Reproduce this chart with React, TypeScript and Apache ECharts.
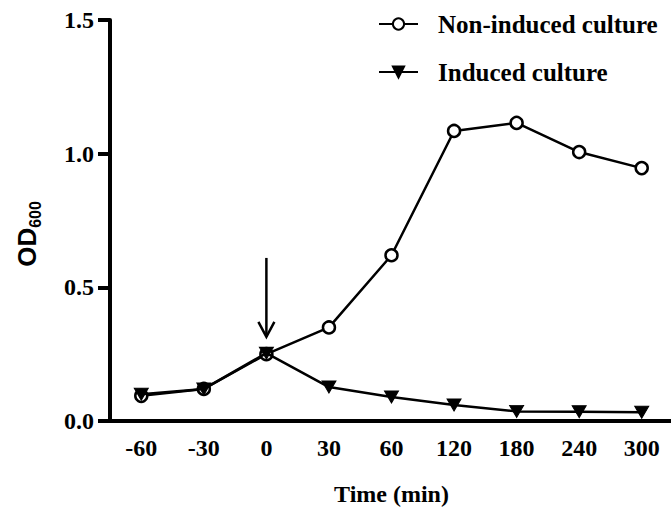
import React, { useEffect, useRef } from "react";
import * as echarts from "echarts";

const categories = ["-60", "-30", "0", "30", "60", "120", "180", "240", "300"];
const nonInduced = [0.094, 0.12, 0.25, 0.35, 0.62, 1.085, 1.115, 1.006, 0.946];
const induced = [0.1, 0.12, 0.254, 0.127, 0.09, 0.06, 0.036, 0.035, 0.033];
const yTicks = { min: 0, max: 1.5, interval: 0.5 };
const arrowCategory = "0";
const arrowFrom = 0.61;
const arrowTo = 0.315;

const SERIF = "'Liberation Serif', 'Times New Roman', serif";
const SANS = "'Liberation Sans', Arial, sans-serif";

export default function App() {
  const ref = useRef<HTMLDivElement>(null);
  useEffect(() => {
    if (!ref.current) return;
    const chart = echarts.init(ref.current, null, { renderer: "svg" });
    chart.setOption({
      animation: false,
      backgroundColor: "#fff",
      grid: { left: 110, top: 20, width: 563, bottom: 89, containLabel: false, outerBoundsMode: "none" },
      legend: {
        orient: "vertical",
        left: 373,
        top: 6,
        itemWidth: 39,
        itemHeight: 14,
        itemGap: 22,
        textStyle: {
          fontFamily: SERIF,
          fontWeight: "bold",
          fontSize: 25,
          lineHeight: 26,
          color: "#000",
          padding: [0, 0, 0, 15],
        },
        data: ["Non-induced culture", "Induced culture"],
      },
      xAxis: {
        type: "category",
        data: categories,
        boundaryGap: true,
        name: "Time (min)",
        nameLocation: "middle",
        nameGap: 61,
        nameTextStyle: { fontFamily: SERIF, fontWeight: "bold", fontSize: 24, color: "#000" },
        axisLine: { lineStyle: { color: "#000", width: 4 } },
        axisTick: { alignWithLabel: true, length: 11, lineStyle: { color: "#000", width: 4 } },
        axisLabel: { fontFamily: SERIF, fontWeight: "bold", fontSize: 24, color: "#000", margin: 15 },
        splitLine: { show: false },
      },
      yAxis: {
        type: "value",
        min: yTicks.min,
        max: yTicks.max,
        interval: yTicks.interval,
        axisLine: { show: true, lineStyle: { color: "#000", width: 4 } },
        axisTick: { show: true, length: 12, lineStyle: { color: "#000", width: 4 } },
        axisLabel: {
          fontFamily: SERIF,
          fontWeight: "bold",
          fontSize: 24,
          color: "#000",
          margin: 16,
          formatter: (v: number) => v.toFixed(1),
        },
        splitLine: { show: false },
      },
      series: [
        {
          name: "Non-induced culture",
          type: "line",
          data: nonInduced,
          symbol: "circle",
          symbolSize: 12,
          lineStyle: { color: "#000", width: 2.5 },
          itemStyle: { color: "#fff", borderColor: "#000", borderWidth: 2.5 },
          z: 2,
        },
        {
          name: "Induced culture",
          type: "line",
          data: induced,
          symbol: "triangle",
          symbolRotate: 180,
          symbolSize: [14, 12],
          lineStyle: { color: "#000", width: 2.5 },
          itemStyle: { color: "#000", borderColor: "#000", borderWidth: 1 },
          z: 3,
        },
      ],
      graphic: [
        {
          id: "yname",
          type: "text",
          x: 27,
          y: 234,
          rotation: Math.PI / 2,
          style: {
            text: "{a|OD}{b|600}",
            align: "center",
            verticalAlign: "middle",
            rich: {
              a: { fontFamily: SANS, fontWeight: "bold", fontSize: 26, fill: "#000", lineHeight: 32, verticalAlign: "middle" },
              b: { fontFamily: SANS, fontWeight: "bold", fontSize: 16, fill: "#000", lineHeight: 32, verticalAlign: "bottom" },
            },
          },
        },
      ],
    });
    const idx = categories.indexOf(arrowCategory);
    const p1 = chart.convertToPixel({ gridIndex: 0 }, [idx, arrowFrom]) as number[];
    const p2 = chart.convertToPixel({ gridIndex: 0 }, [idx, arrowTo]) as number[];
    chart.setOption({
      graphic: [
        {
          id: "arrowShaft",
          type: "line",
          shape: { x1: p1[0], y1: p1[1], x2: p2[0], y2: p2[1] },
          style: { stroke: "#000", lineWidth: 2.5 },
          z: 10,
        },
        {
          id: "arrowHead",
          type: "polyline",
          shape: { points: [[p2[0] - 8, p2[1] - 15], [p2[0], p2[1]], [p2[0] + 8, p2[1] - 15]] },
          style: { stroke: "#000", lineWidth: 2.5, fill: "none" },
          z: 10,
        },
      ],
    });
    return () => chart.dispose();
  }, []);
  return <div ref={ref} style={{ width: 671, height: 510, position: "absolute", left: 0, top: 0 }} />;
}
